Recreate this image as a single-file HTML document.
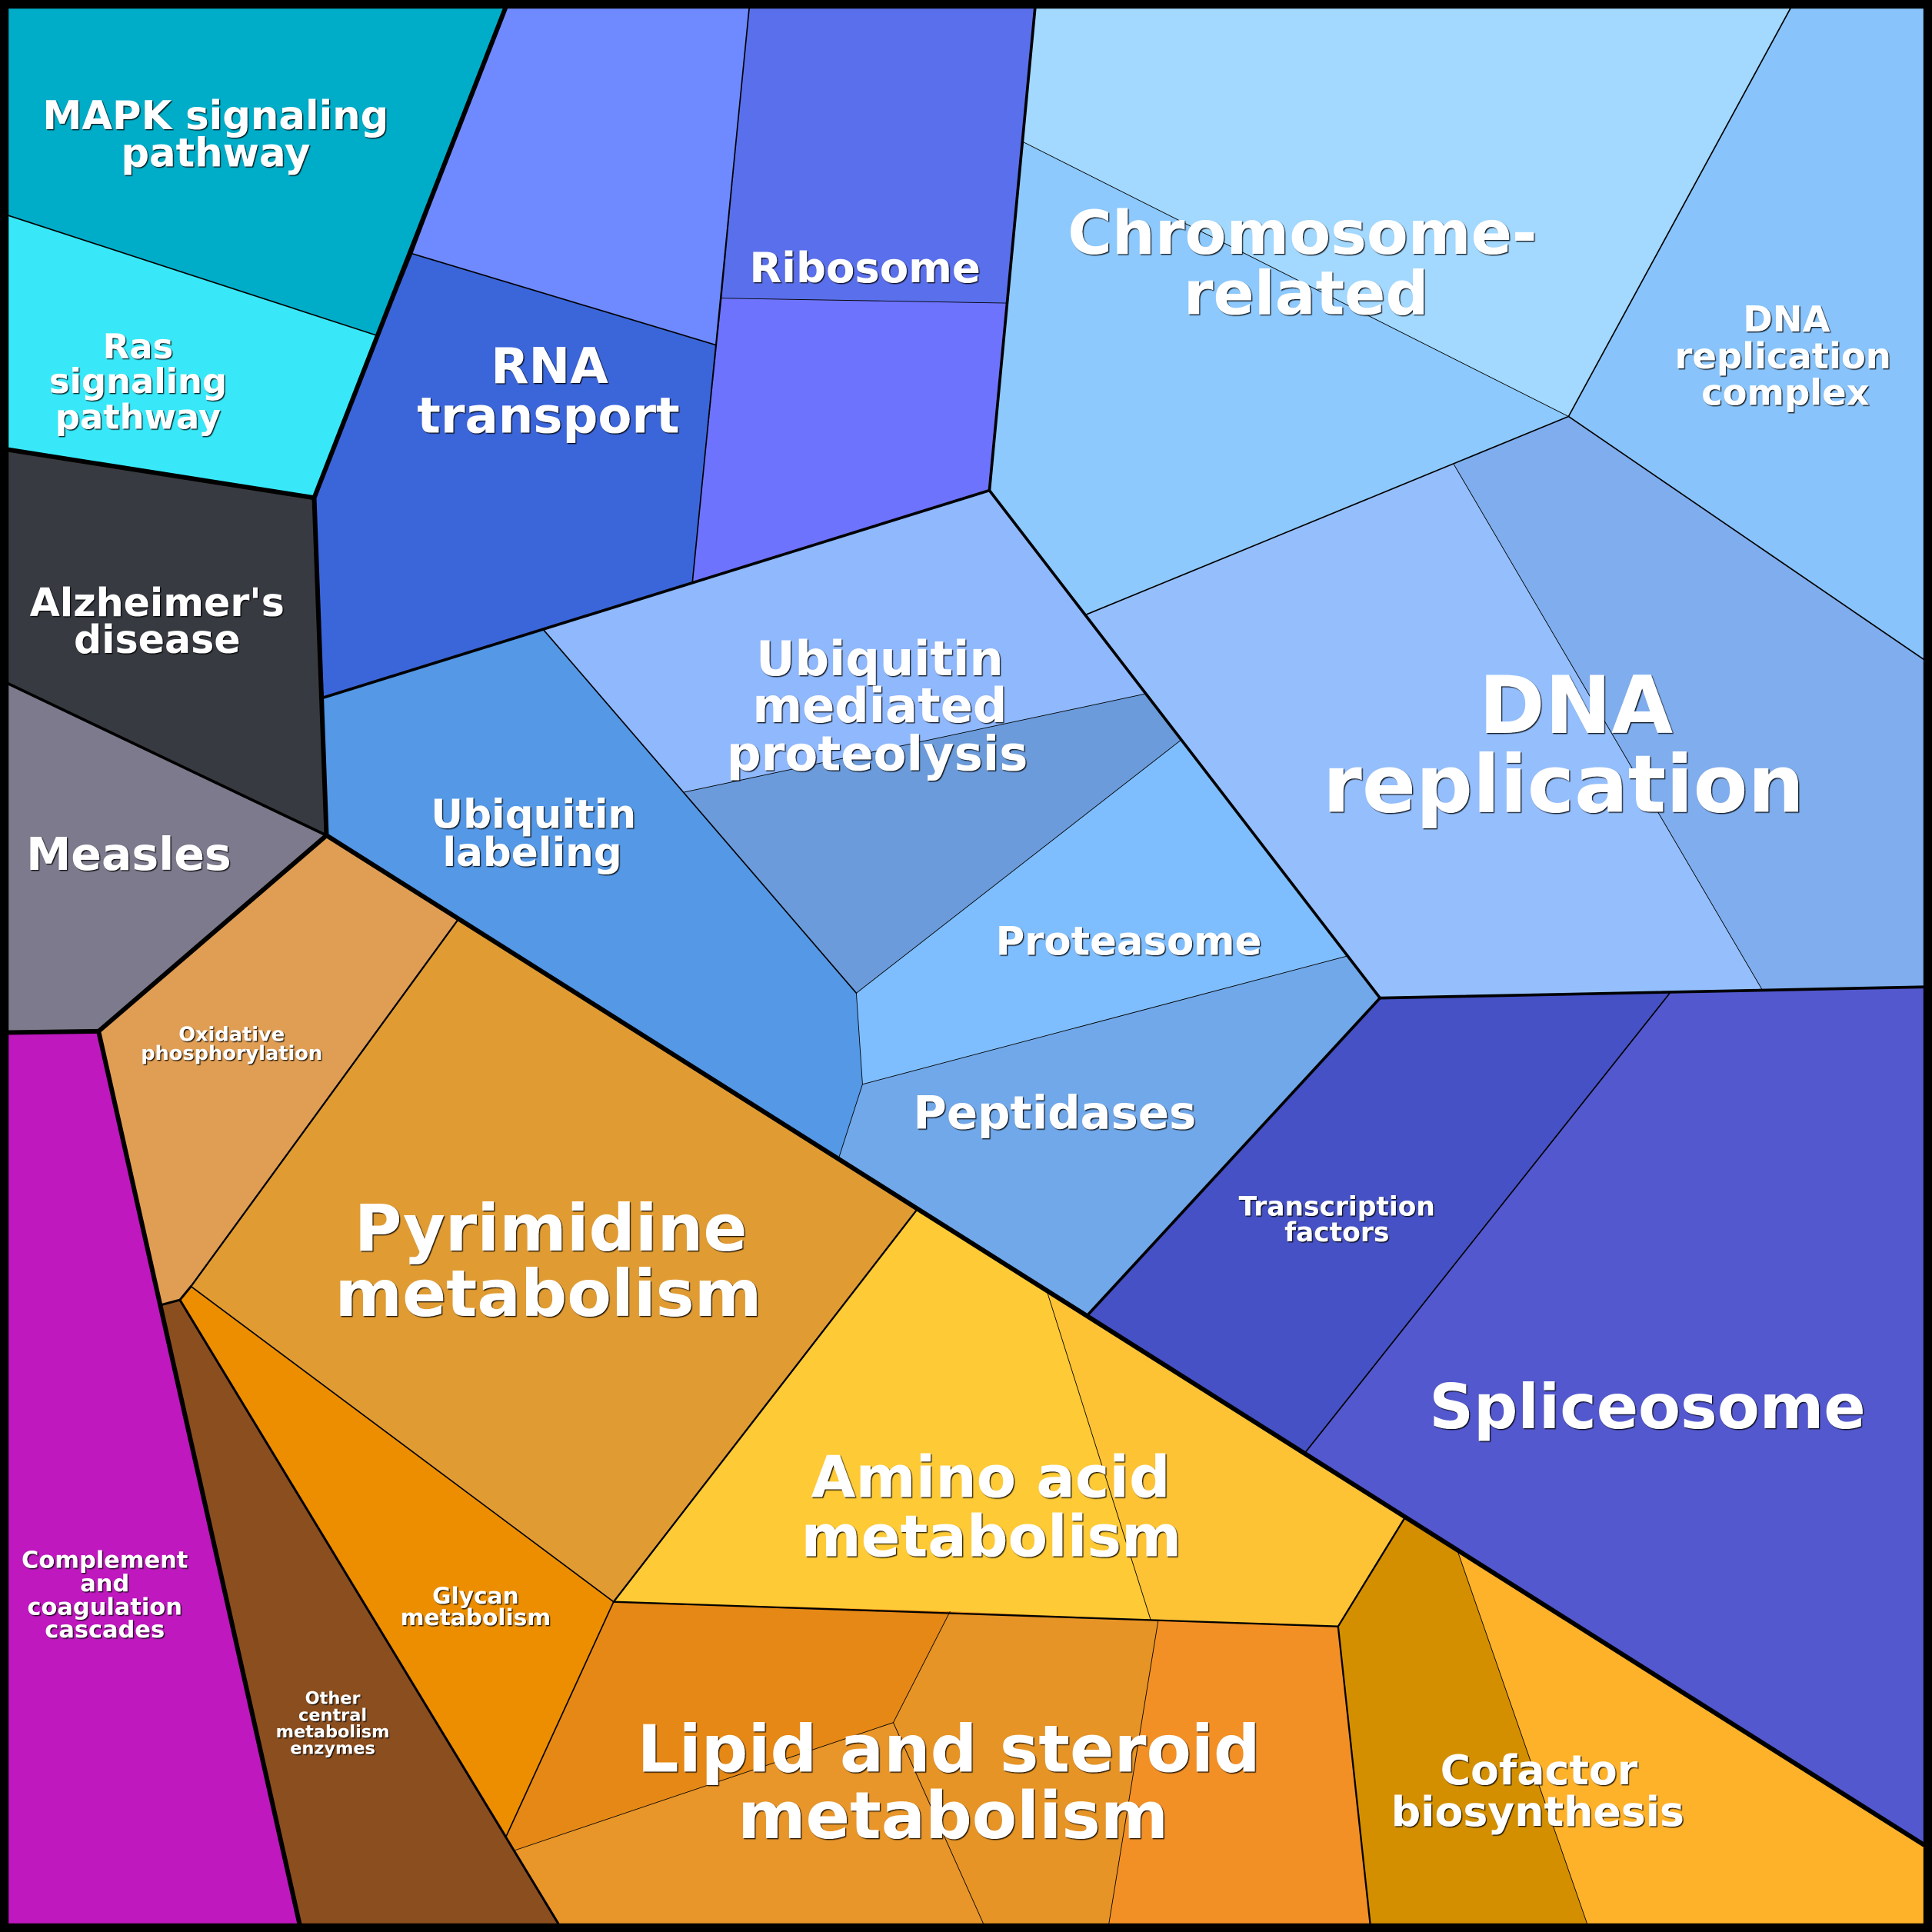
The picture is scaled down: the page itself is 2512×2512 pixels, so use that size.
<!DOCTYPE html>
<html><head><meta charset="utf-8"><style>
html,body{margin:0;padding:0;background:#000;}
svg{display:block;}
text{font-family:"DejaVu Sans","Liberation Sans",sans-serif;font-weight:bold;fill:#fff;text-anchor:middle;}
</style></head><body>
<svg width="2512" height="2512" viewBox="0 0 1568 1568" xmlns="http://www.w3.org/2000/svg">
<defs><filter id="sh" x="-5%" y="-5%" width="110%" height="120%"><feDropShadow dx="0.8" dy="0.8" stdDeviation="0.35" flood-color="#000" flood-opacity="0.9"/></filter></defs>
<rect x="0" y="0" width="1568" height="1568" fill="#000"/>
<g stroke-width="0.4" stroke-linejoin="round">
<polygon points="7,7 410,7 305,272 7,175" fill="#00ADC8" stroke="#00ADC8"/>
<polygon points="7,175 305,272 255,404 7,365" fill="#38E8F8" stroke="#38E8F8"/>
<polygon points="7,365 255,404 265,678 7,555" fill="#373A40" stroke="#373A40"/>
<polygon points="7,555 265,678 80,837 7,838" fill="#7C7A8C" stroke="#7C7A8C"/>
<polygon points="410,7 608,7 581,280 335,206" fill="#6F8AFF" stroke="#6F8AFF"/>
<polygon points="335,206 581,280 562,472 263,566 255,404" fill="#3B66DA" stroke="#3B66DA"/>
<polygon points="608,7 840,7 817,246 586,242" fill="#5A6FEB" stroke="#5A6FEB"/>
<polygon points="586,242 817,246 803,398 562,472" fill="#6D73FD" stroke="#6D73FD"/>
<polygon points="840,7 1453,7 1273,338 830,115" fill="#A3D8FF" stroke="#A3D8FF"/>
<polygon points="830,115 1273,338 1180,377 881,499 803,398" fill="#8DC9FD" stroke="#8DC9FD"/>
<polygon points="1453,7 1561,7 1561,535 1273,338" fill="#88C4FB" stroke="#88C4FB"/>
<polygon points="881,499 1180,377 1430,803 1120,810" fill="#95BFFC" stroke="#95BFFC"/>
<polygon points="1180,377 1273,338 1561,535 1561,801 1430,803" fill="#7FADED" stroke="#7FADED"/>
<polygon points="263,566 441,511 695,806 700,880 681,939 265,678" fill="#5498E6" stroke="#5498E6"/>
<polygon points="441,511 803,398 930,563 555,643" fill="#8FB8FD" stroke="#8FB8FD"/>
<polygon points="555,643 930,563 958,601 695,806" fill="#6B9BDA" stroke="#6B9BDA"/>
<polygon points="695,806 958,601 1093,776 700,880" fill="#7FBEFE" stroke="#7FBEFE"/>
<polygon points="700,880 1093,776 1120,810 883,1067 681,939" fill="#71A8E9" stroke="#71A8E9"/>
<polygon points="1120,810 1356,805 1060,1178 883,1067" fill="#4551C4" stroke="#4551C4"/>
<polygon points="1356,805 1561,801 1561,1497 1060,1178" fill="#5358CE" stroke="#5358CE"/>
<polygon points="265,678 372,746 155,1044 146,1055 131,1059 80,837" fill="#E09E54" stroke="#E09E54"/>
<polygon points="372,746 744,982 498,1300 155,1044" fill="#E09C33" stroke="#E09C33"/>
<polygon points="155,1044 498,1300 411,1490 146,1055" fill="#EC8E00" stroke="#EC8E00"/>
<polygon points="131,1059 146,1055 411,1490 453,1561 243,1561" fill="#8B4E1F" stroke="#8B4E1F"/>
<polygon points="7,838 80,837 131,1059 243,1561 7,1561" fill="#BE18BE" stroke="#BE18BE"/>
<polygon points="744,982 850,1049 934,1315 498,1300" fill="#FECA35" stroke="#FECA35"/>
<polygon points="850,1049 1140,1232 1086,1320 934,1315" fill="#FEC335" stroke="#FEC335"/>
<polygon points="498,1300 771,1308 725,1398 417,1502 411,1490" fill="#E58815" stroke="#E58815"/>
<polygon points="417,1502 725,1398 798,1561 453,1561" fill="#E8952A" stroke="#E8952A"/>
<polygon points="771,1308 940,1315 900,1561 798,1561 725,1398" fill="#E69426" stroke="#E69426"/>
<polygon points="940,1315 1086,1320 1112,1561 900,1561" fill="#F29026" stroke="#F29026"/>
<polygon points="1140,1232 1183,1259 1288,1561 1112,1561 1086,1320" fill="#D48F00" stroke="#D48F00"/>
<polygon points="1183,1259 1561,1497 1561,1561 1288,1561" fill="#FEB22A" stroke="#FEB22A"/>
</g>
<g stroke="#000" fill="none" stroke-linecap="round" stroke-linejoin="round">
<g stroke-width="0.55">
<line x1="586" y1="242" x2="817" y2="246"/>
<line x1="830" y1="115" x2="1273" y2="338"/>
<line x1="1180" y1="377" x2="1430" y2="803"/>
<line x1="555" y1="643" x2="930" y2="563"/>
<line x1="958" y1="601" x2="695" y2="806"/>
<polyline points="695,806 700,880 681,939"/>
<line x1="700" y1="880" x2="1093" y2="776"/>
<line x1="850" y1="1049" x2="934" y2="1315"/>
<polyline points="771,1308 725,1398 417,1502"/>
<line x1="725" y1="1398" x2="798" y2="1561"/>
<line x1="940" y1="1315" x2="900" y2="1561"/>
<line x1="1183" y1="1259" x2="1288" y2="1561"/>
</g>
<g stroke-width="1.05">
<line x1="7" y1="175" x2="305" y2="272"/>
<line x1="335" y1="206" x2="581" y2="280"/>
<line x1="608" y1="7" x2="562" y2="472"/>
<line x1="155" y1="1044" x2="498" y2="1300"/>
<line x1="498" y1="1300" x2="411" y2="1490"/>
<line x1="1356" y1="805" x2="1060" y2="1178"/>
<line x1="1453" y1="7" x2="1273" y2="338"/>
<line x1="881" y1="499" x2="1273" y2="338"/>
<line x1="1273" y1="338" x2="1561" y2="535"/>
<line x1="441" y1="511" x2="695" y2="806"/>
</g>
<g stroke-width="1.45">
<line x1="372" y1="746" x2="155" y2="1044"/>
<line x1="744" y1="982" x2="498" y2="1300"/>
<line x1="498" y1="1300" x2="1086" y2="1320"/>
<polyline points="1140,1232 1086,1320 1112,1561"/>
</g>
<g stroke-width="1.9">
<polyline points="131,1059 146,1055 155,1044"/>
<line x1="146" y1="1055" x2="453" y2="1561"/>
</g>
<g stroke-width="2.3">
<line x1="7" y1="555" x2="265" y2="678"/>
<line x1="263" y1="566" x2="803" y2="398"/>
<line x1="840" y1="7" x2="803" y2="398"/>
<line x1="803" y1="398" x2="1120" y2="810"/>
<line x1="1120" y1="810" x2="1561" y2="801"/>
<line x1="1120" y1="810" x2="883" y2="1067"/>
</g>
<g stroke-width="3.75">
<line x1="410" y1="7" x2="255" y2="404"/>
<line x1="7" y1="365" x2="255" y2="404"/>
<line x1="255" y1="404" x2="265" y2="678"/>
<line x1="265" y1="678" x2="80" y2="837"/>
<line x1="7" y1="838" x2="80" y2="837"/>
<line x1="80" y1="837" x2="243" y2="1561"/>
<line x1="265" y1="678" x2="1561" y2="1497"/>
</g>
</g>
<rect x="3.5" y="3.5" width="1561" height="1561" fill="none" stroke="#000" stroke-width="7"/>
<g filter="url(#sh)">
<text x="175" y="105" font-size="32">MAPK signaling</text>
<text x="175" y="135" font-size="32">pathway</text>
<text x="112" y="291" font-size="28">Ras</text>
<text x="112" y="319" font-size="28">signaling</text>
<text x="112" y="348" font-size="28">pathway</text>
<text x="127.5" y="500" font-size="31.6">Alzheimer's</text>
<text x="127.5" y="530" font-size="31.6">disease</text>
<text x="104.5" y="706" font-size="36.5">Measles</text>
<text x="446" y="311" font-size="40">RNA</text>
<text x="445" y="351" font-size="40">transport</text>
<text x="702" y="229" font-size="34">Ribosome</text>
<text x="1057" y="206" font-size="49">Chromosome-</text>
<text x="1060" y="255" font-size="49">related</text>
<text x="1450" y="269" font-size="29">DNA</text>
<text x="1447" y="299" font-size="29">replication</text>
<text x="1449" y="328.5" font-size="29">complex</text>
<text x="1279" y="595" font-size="64.5">DNA</text>
<text x="1269" y="659" font-size="64.5">replication</text>
<text x="714" y="548" font-size="38.8">Ubiquitin</text>
<text x="714" y="586" font-size="38.8">mediated</text>
<text x="712" y="625" font-size="39">proteolysis</text>
<text x="433" y="672" font-size="32.2">Ubiquitin</text>
<text x="432" y="703" font-size="32.2">labeling</text>
<text x="916" y="775" font-size="32">Proteasome</text>
<text x="856" y="916" font-size="37">Peptidases</text>
<text x="1085" y="986.5" font-size="21.5">Transcription</text>
<text x="1085" y="1007.5" font-size="21.5">factors</text>
<text x="1337" y="1159" font-size="50">Spliceosome</text>
<text x="188" y="845" font-size="16">Oxidative</text>
<text x="188" y="860" font-size="16">phosphorylation</text>
<text x="447" y="1015" font-size="52.5">Pyrimidine</text>
<text x="445" y="1068" font-size="52.5">metabolism</text>
<text x="386" y="1301.5" font-size="18.5">Glycan</text>
<text x="386" y="1319" font-size="18.5">metabolism</text>
<text x="270" y="1383" font-size="14">Other</text>
<text x="270" y="1396.5" font-size="14">central</text>
<text x="270" y="1410" font-size="14">metabolism</text>
<text x="270" y="1423.5" font-size="14">enzymes</text>
<text x="85" y="1272.5" font-size="19">Complement</text>
<text x="85" y="1291.5" font-size="19">and</text>
<text x="85" y="1310.5" font-size="19">coagulation</text>
<text x="85" y="1329" font-size="19">cascades</text>
<text x="804" y="1215" font-size="46.8">Amino acid</text>
<text x="804.5" y="1263" font-size="46.8">metabolism</text>
<text x="770" y="1438" font-size="53">Lipid and steroid</text>
<text x="773.5" y="1492" font-size="53">metabolism</text>
<text x="1249" y="1448" font-size="33.5">Cofactor</text>
<text x="1248" y="1482" font-size="33.5">biosynthesis</text>
</g>
</svg>
</body></html>
